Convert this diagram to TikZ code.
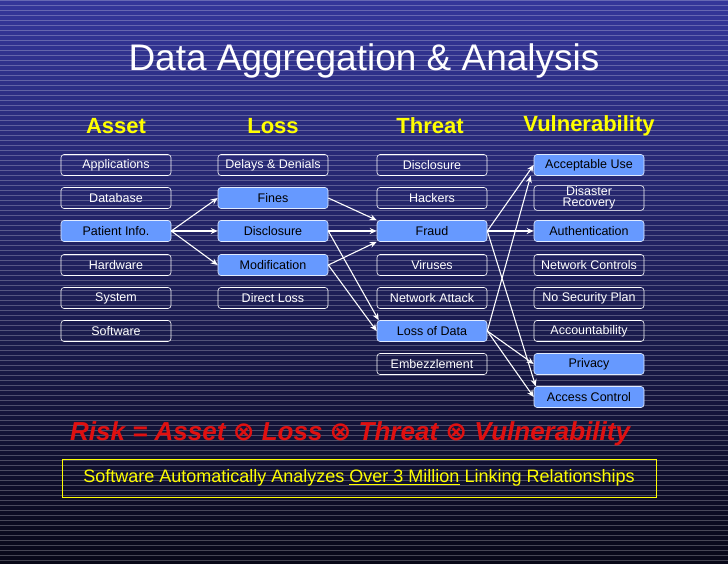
\documentclass[tikz,border=0pt]{standalone}
\usepackage{fontspec}
\setmainfont{Liberation Sans}
\newfontfamily\djfont{DejaVu Sans}
\usetikzlibrary{arrows.meta}
\definecolor{bgtop}{HTML}{34369A}
\definecolor{bgbot}{HTML}{080818}
\definecolor{fillb}{HTML}{6699FF}
\definecolor{ylw}{HTML}{FFFF00}
\definecolor{rd}{HTML}{E01010}
\newcommand{\otm}{{\djfont\bfseries\upshape ⊗}}
\tikzset{
 box/.style={draw=white, rounded corners=3pt, minimum width=110pt, minimum height=21pt, inner sep=1pt, font=\fontsize{12.5}{11}\selectfont, text=white, align=center, line width=0.6pt},
 hbox/.style={box, fill=fillb, text=black, draw=white!80!fillb},
 hdr/.style={font=\fontsize{22}{22}\selectfont\bfseries, text=ylw},
 arr/.style={draw=white, line width=1.1pt, -{Stealth[length=7pt,width=6pt]}}
}
\begin{document}
\begin{tikzpicture}[x=1pt,y=-1pt]
\useasboundingbox (0,0) rectangle (728,563);
\shade[top color=bgtop, bottom color=bgbot] (0,0) rectangle (728,563);
\foreach \y in {0,5,...,560} \draw[white, opacity=0.25, line width=0.5pt] (0,\y) -- (728,\y);
\node[text=white, font=\fontsize{37}{37}\selectfont] (title) at (364,61) {Data Aggregation \& Analysis};
\node[hdr] (h1) at (116,126) {Asset};
\node[hdr] (h2) at (273,126) {Loss};
\node[hdr] (h3) at (430,126) {Threat};
\node[hdr] (h4) at (589,126) {Vulnerability};
% Asset
\node[box] (a1) at (116,165) {Applications};
\node[box] (a2) at (116,198) {Database};
\node[hbox] (a3) at (116,231) {Patient Info.};
\node[box] (a4) at (116,265) {Hardware};
\node[box] (a5) at (116,298) {System};
\node[box] (a6) at (116,331) {Software};
% Loss
\node[box] (l1) at (273,165) {Delays \& Denials};
\node[hbox] (l2) at (273,198) {Fines};
\node[hbox] (l3) at (273,231) {Disclosure};
\node[hbox] (l4) at (273,265) {Modification};
\node[box] (l5) at (273,298) {Direct Loss};
% Threat
\node[box] (t1) at (432,165) {Disclosure};
\node[box] (t2) at (432,198) {Hackers};
\node[hbox] (t3) at (432,231) {Fraud};
\node[box] (t4) at (432,265) {Viruses};
\node[box] (t5) at (432,298) {Network Attack};
\node[hbox] (t6) at (432,331) {Loss of Data};
\node[box] (t7) at (432,364) {Embezzlement};
% Vulnerability
\node[hbox] (v1) at (589,165) {Acceptable Use};
\node[box] (v2) at (589,198) {Disaster\\Recovery};
\node[hbox] (v3) at (589,231) {Authentication};
\node[box] (v4) at (589,265) {Network Controls};
\node[box] (v5) at (589,298) {No Security Plan};
\node[box] (v6) at (589,331) {Accountability};
\node[hbox] (v7) at (589,364) {Privacy};
\node[hbox] (v8) at (589,397) {Access Control};
% arrows
\draw[arr] (a3.east) -- (l2.west);
\draw[arr] (a3.east) -- (l3.west);
\draw[arr] (a3.east) -- (l4.west);
\draw[arr] (l2.east) -- (t3.north west);
\draw[arr] (l3.east) -- (t3.west);
\draw[arr] (l4.east) -- (t3.south west);
\draw[arr] (l3.east) -- ([xshift=2pt]t6.north west);
\draw[arr] (l4.east) -- (t6.west);
\draw[arr] (t3.east) -- (v1.west);
\draw[arr] (t3.east) -- (v3.west);
\draw[arr] (t3.east) -- ([xshift=2pt]v8.north west);
\draw[arr] (t6.east) -- ([xshift=-3pt]v1.south west);
\draw[arr] (t6.east) -- (v7.west);
\draw[arr] (t6.east) -- (v8.west);
\node[text=rd, font=\fontsize{26}{26}\selectfont\bfseries\itshape, anchor=west, inner sep=0pt] (risk) at (70,434) {Risk = Asset \otm{} Loss \otm{} Threat \otm{} Vulnerability};
\node[draw=ylw, line width=0.7pt, minimum width=594pt, minimum height=38pt, text=ylw, font=\fontsize{18}{18}\selectfont] (note) at (359,478) {Software Automatically Analyzes \underline{Over 3 Million} Linking Relationships};
\end{tikzpicture}
\end{document}
